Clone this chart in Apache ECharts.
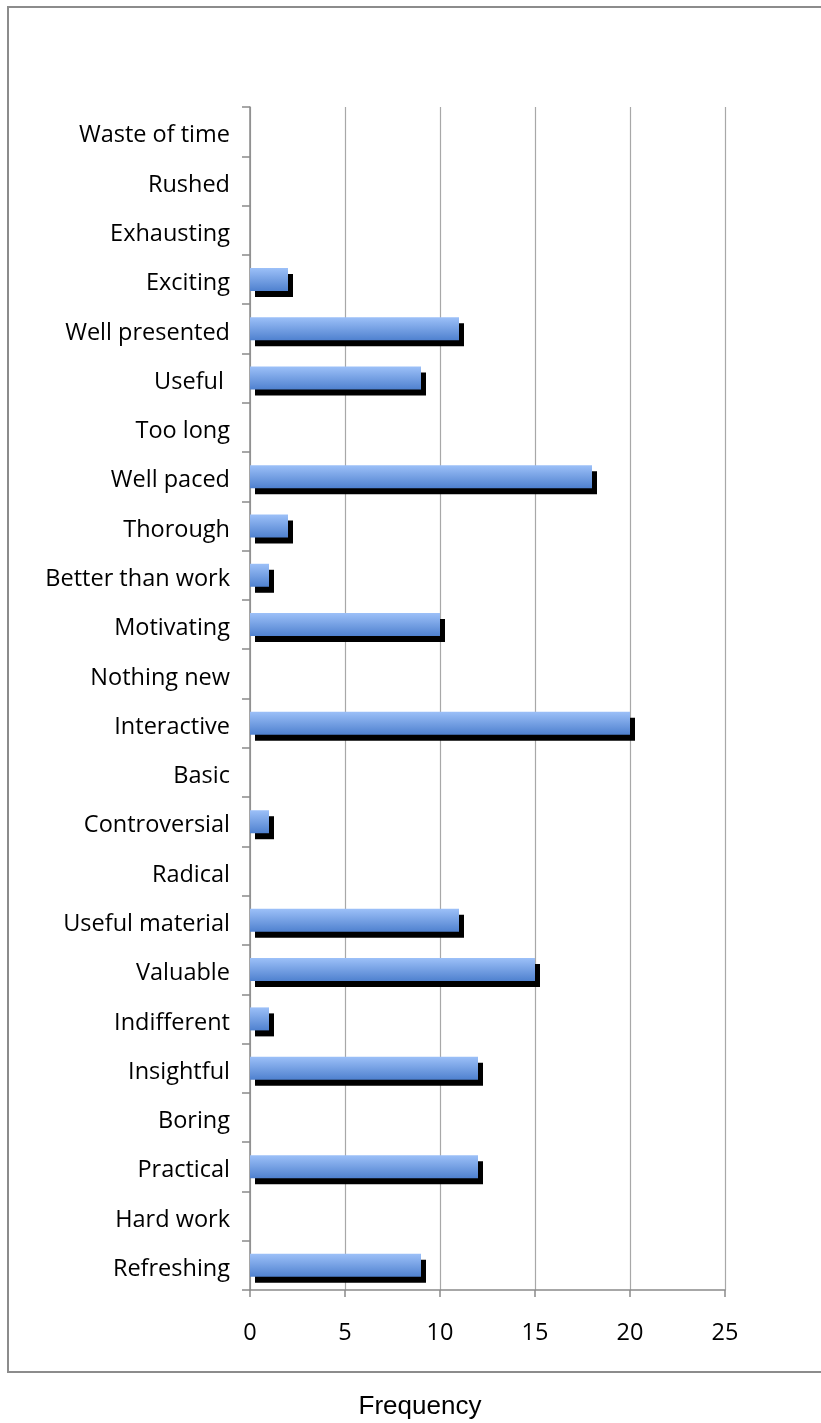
<!DOCTYPE html>
<html>
<head>
<meta charset="utf-8">
<script src="https://cdn.jsdelivr.net/npm/echarts@6/dist/echarts.min.js"></script>
<style>
html,body{margin:0;padding:0;background:#fff;}
#chart{width:821px;height:1423px;}
</style>
</head>
<body>
<div id="chart"></div>
<script>
// Categories listed bottom to top (ECharts category axis starts at the bottom)
const categories = ["Refreshing","Hard work","Practical","Boring","Insightful","Indifferent","Valuable","Useful material","Radical","Controversial","Basic","Interactive","Nothing new","Motivating","Better than work","Thorough","Well paced","Too long","Useful ","Well presented","Exciting","Exhausting","Rushed","Waste of time"];
const frequency = [9,0,12,0,12,1,15,11,0,1,0,20,0,10,1,2,18,0,9,11,2,0,0,0];
const xTicks = [0,5,10,15,20,25];
const axisTitle = "Frequency";

const chart = echarts.init(document.getElementById('chart'), null, {renderer:'canvas'});
const labelFont = '"Open Sans", Lato, sans-serif';
chart.setOption({
  animation:false,
  backgroundColor:'#fff',
  grid:{left:250,right:96,top:107,bottom:133,containLabel:false},
  xAxis:{
    type:'value', min:xTicks[0], max:xTicks[xTicks.length-1], interval:xTicks[1]-xTicks[0],
    axisLine:{show:true,lineStyle:{color:'#8a8a8a',width:1.5}},
    axisTick:{show:true,length:7,lineStyle:{color:'#8a8a8a',width:1.5}},
    splitLine:{show:true,lineStyle:{color:'#a8a8a8',width:1.2}},
    axisLabel:{color:'#000',fontSize:23.5,fontFamily:labelFont,margin:31}
  },
  yAxis:{
    type:'category', data:categories, boundaryGap:true,
    axisLine:{show:true,lineStyle:{color:'#8a8a8a',width:1.5}},
    axisTick:{show:true,length:8,alignWithLabel:false,lineStyle:{color:'#8a8a8a',width:1.5}},
    splitLine:{show:false},
    axisLabel:{
      margin:20, interval:0,
      formatter:function(v){ return '{a|' + v + '}'; },
      rich:{a:{color:'#000',fontSize:23.5,fontFamily:labelFont,padding:[8,0,0,0]}}
    }
  },
  series:[{
    type:'bar', data:frequency, barWidth:23,
    itemStyle:{
      color:new echarts.graphic.LinearGradient(0,0,0,1,[
        {offset:0,color:'#9cc0f8'},
        {offset:1,color:'#4f81cf'}
      ]),
      shadowColor:'#000', shadowBlur:0, shadowOffsetX:5, shadowOffsetY:6
    }
  }],
  graphic:[
    {type:'rect', shape:{x:8,y:7,width:830,height:1365}, style:{fill:'none',stroke:'#8c8c8c',lineWidth:2}, silent:true, z:-1},
    {type:'text', x:420, y:1407, style:{text:axisTitle, font:'26px "Liberation Sans", Arial, sans-serif', fill:'#000', textAlign:'center', textVerticalAlign:'middle'}}
  ]
});
</script>
</body>
</html>
